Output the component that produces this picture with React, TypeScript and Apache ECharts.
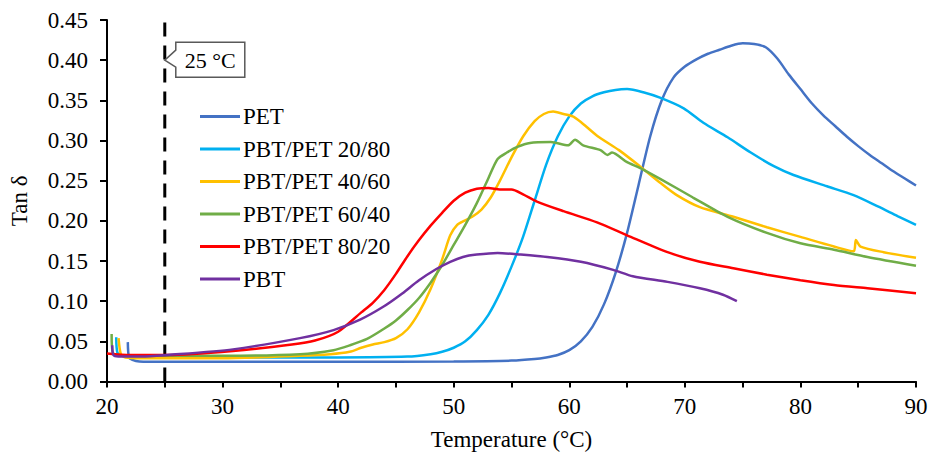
import React, { useEffect, useRef } from "react";
import * as echarts from "echarts";

const SERIES_NAMES = ["PET", "PBT/PET 20/80", "PBT/PET 40/60", "PBT/PET 60/40", "PBT/PET 80/20", "PBT"];
const COLORS = ["#4472C4", "#00B0F0", "#FFC000", "#70AD47", "#FF0000", "#7030A0"];

const PET: [number, number][] = [
  [21.8, 0.049], [21.9, 0.03], [22.2, 0.027], [22.8, 0.025], [25, 0.0245], [30, 0.0245], [40, 0.0245],
  [50, 0.025], [55, 0.026], [57, 0.028], [58, 0.03], [59, 0.033], [60, 0.039], [61, 0.05], [62, 0.068],
  [63, 0.096], [64, 0.135], [65, 0.185], [66, 0.245], [67, 0.305], [68, 0.35], [69, 0.378], [70, 0.392],
  [71, 0.401], [72, 0.408], [73, 0.413], [74, 0.418], [75, 0.421], [76, 0.42], [77, 0.416], [78, 0.402],
  [79, 0.382], [80, 0.364], [81, 0.346], [82, 0.331], [83, 0.318], [84, 0.305], [85, 0.293], [86, 0.282],
  [87, 0.272], [88, 0.262], [89, 0.253], [90, 0.244],
];

const PBT_PET_20_80: [number, number][] = [
  [20.8, 0.055], [20.9, 0.036], [21.3, 0.032], [23, 0.031], [30, 0.03], [40, 0.03], [46, 0.031],
  [48, 0.034], [49, 0.037], [50, 0.042], [51, 0.05], [52, 0.064], [53, 0.083], [54, 0.11], [55, 0.143],
  [56, 0.18], [57, 0.225], [58, 0.27], [59, 0.305], [60, 0.33], [61, 0.346], [62, 0.355], [63, 0.36],
  [64, 0.363], [65, 0.364], [66.4, 0.36], [67.9, 0.353], [69.9, 0.34], [71.6, 0.322], [73.7, 0.304],
  [75.7, 0.285], [77.7, 0.268], [79.4, 0.257], [82.3, 0.243], [84.6, 0.232], [86.7, 0.218], [88.4, 0.206],
  [90, 0.195],
];

const PBT_PET_40_60: [number, number][] = [
  [21.0, 0.054], [21.2, 0.034], [21.6, 0.03], [23, 0.029], [30, 0.029], [36.7, 0.032], [39.3, 0.034],
  [41, 0.037], [42, 0.042], [43, 0.046], [44, 0.049], [45, 0.054], [46, 0.065], [47, 0.086], [48, 0.115],
  [49, 0.152], [49.7, 0.182], [50.3, 0.195], [50.9, 0.2], [51.6, 0.205], [52.4, 0.214], [53.2, 0.229],
  [54, 0.25], [55, 0.279], [56, 0.305], [57, 0.324], [57.8, 0.333], [58.6, 0.336], [59.5, 0.333],
  [60.3, 0.33], [61, 0.323], [62.4, 0.306], [64.3, 0.288], [66.1, 0.268], [67.9, 0.247], [69.3, 0.232],
  [71.3, 0.217], [74.2, 0.205], [77.1, 0.192], [80, 0.18], [82.9, 0.168], [84.6, 0.162], [84.8, 0.176],
  [85.2, 0.168], [87.2, 0.161], [90, 0.154],
];

const PBT_PET_60_40: [number, number][] = [
  [20.4, 0.059], [20.5, 0.036], [21, 0.033], [23, 0.032], [30, 0.032], [36.7, 0.034], [39.6, 0.039],
  [41, 0.045], [42.5, 0.053], [44, 0.066], [45, 0.076], [46, 0.089], [47, 0.104], [48, 0.123], [49, 0.145],
  [50, 0.17], [51, 0.195], [52, 0.222], [53, 0.253], [53.8, 0.277], [54.6, 0.285], [55.5, 0.292],
  [56.6, 0.297], [58.4, 0.298], [59.9, 0.294], [60.5, 0.301], [61.2, 0.294], [62.7, 0.288], [63.3, 0.282],
  [63.7, 0.285], [65, 0.273], [66.1, 0.266], [67.9, 0.252], [70.7, 0.229], [73.7, 0.205], [77.1, 0.185],
  [80, 0.172], [82.9, 0.164], [85.8, 0.155], [90, 0.144],
];

const PBT_PET_80_20: [number, number][] = [
  [20, 0.035], [22, 0.033], [25.2, 0.033], [30.9, 0.038], [36, 0.046], [38, 0.051], [40, 0.062],
  [42, 0.086], [43, 0.098], [44, 0.114], [45, 0.134], [46, 0.156], [47, 0.176], [48, 0.194], [49, 0.21],
  [50, 0.225], [51, 0.235], [52, 0.24], [53, 0.241], [54, 0.239], [55, 0.239], [56, 0.233], [57.2, 0.224],
  [59.5, 0.212], [62.4, 0.198], [65, 0.182], [68.5, 0.161], [71.3, 0.149], [74.2, 0.141], [77.1, 0.133],
  [80, 0.126], [82.9, 0.12], [85.8, 0.116], [90, 0.11],
];

const PBT: [number, number][] = [
  [20.45, 0.045], [20.55, 0.033], [21, 0.031], [23, 0.031], [25.2, 0.033], [30.9, 0.04], [36.7, 0.054],
  [39.6, 0.064], [41.9, 0.077], [43.9, 0.093], [45.4, 0.108], [47, 0.126], [48.5, 0.14], [49.7, 0.149],
  [50.8, 0.155], [52, 0.158], [53.8, 0.16], [55.8, 0.158], [58.1, 0.155], [61, 0.149], [63.8, 0.139],
  [65.5, 0.131], [68.5, 0.124], [71.3, 0.116], [73.3, 0.108], [74.5, 0.1],
];

const SERIES_DATA = [PET, PBT_PET_20_80, PBT_PET_40_60, PBT_PET_60_40, PBT_PET_80_20, PBT];

const REF_TEMP = 25;
const REF_LABEL = "25 °C";
const REF_LABEL_Y = 0.4;
const X_NAME = "Temperature (°C)";
const Y_NAME = "Tan δ";

const FONT = "Times New Roman, Liberation Serif, serif";

export default function App() {
  const ref = useRef<HTMLDivElement>(null);
  useEffect(() => {
    if (!ref.current) return;
    document.body.style.overflow = "hidden";
    const chart = echarts.init(ref.current, undefined, { renderer: "svg" });
    const series: any[] = SERIES_NAMES.map((name, i) => ({
      name,
      type: "line",
      data: SERIES_DATA[i],
      symbol: "none",
      smooth: 0.25,
      lineStyle: { color: COLORS[i], width: 2.5 },
      itemStyle: { color: COLORS[i] },
      z: 3,
    }));
    series.push({
      name: "ref",
      type: "line",
      data: [[REF_TEMP, 0], [REF_TEMP, 0.45]],
      symbol: "none",
      silent: true,
      lineStyle: { color: "#000", width: 3, type: [14, 9] },
      z: 2,
    });
    chart.setOption({
      animation: false,
      backgroundColor: "#fff",
      textStyle: { fontFamily: FONT },
      grid: { left: 107, right: 16, top: 20, bottom: 76.5 },
      legend: {
        data: SERIES_NAMES,
        orient: "vertical",
        left: 195,
        top: 100,
        icon: "rect",
        itemWidth: 40,
        itemHeight: 3,
        itemGap: 9.5,
        textStyle: { fontFamily: FONT, fontSize: 23, color: "#000", padding: [0, 0, 0, -2] },
      },
      xAxis: {
        type: "value",
        min: 20,
        max: 90,
        interval: 5,
        name: X_NAME,
        nameLocation: "middle",
        nameGap: 46,
        nameTextStyle: { fontFamily: FONT, fontSize: 23, color: "#000" },
        axisLine: { lineStyle: { color: "#000", width: 2 } },
        axisTick: { show: true, length: 6, lineStyle: { color: "#000", width: 2 } },
        axisLabel: {
          fontFamily: FONT,
          fontSize: 23,
          color: "#000",
          margin: 13,
          formatter: (v: number) => (v % 10 === 0 ? String(v) : ""),
        },
        splitLine: { show: false },
      },
      yAxis: {
        type: "value",
        min: 0,
        max: 0.45,
        interval: 0.05,
        name: Y_NAME,
        nameLocation: "middle",
        nameGap: 76,
        nameTextStyle: { fontFamily: FONT, fontSize: 23, color: "#000" },
        axisLine: { show: true, lineStyle: { color: "#000", width: 2 } },
        axisTick: { show: true, length: 7, lineStyle: { color: "#000", width: 2 } },
        axisLabel: {
          fontFamily: FONT,
          fontSize: 23,
          color: "#000",
          margin: 19,
          formatter: (v: number) => v.toFixed(2),
        },
        splitLine: { show: false },
      },
      series,
    });
    const p = chart.convertToPixel({ xAxisIndex: 0, yAxisIndex: 0 }, [REF_TEMP, REF_LABEL_Y]) as number[];
    const px = p[0];
    const py = p[1];
    chart.setOption({
      graphic: [
        {
          type: "polygon",
          z: 10,
          shape: {
            points: [
              [px + 11, py - 18],
              [px + 80, py - 18],
              [px + 80, py + 17],
              [px + 11, py + 17],
              [px + 11, py + 7],
              [px, py],
              [px + 11, py - 10],
            ],
          },
          style: { fill: "#fff", stroke: "#595959", lineWidth: 1.5 },
        },
        {
          type: "text",
          z: 11,
          x: px + 45.5,
          y: py,
          style: {
            text: REF_LABEL,
            fontFamily: FONT,
            fontSize: 22,
            fill: "#000",
            align: "center",
            verticalAlign: "middle",
          },
        },
      ],
    });
    return () => chart.dispose();
  }, []);
  return <div ref={ref} style={{ position: "fixed", left: 0, top: 0, width: 932, height: 458 }} />;
}
